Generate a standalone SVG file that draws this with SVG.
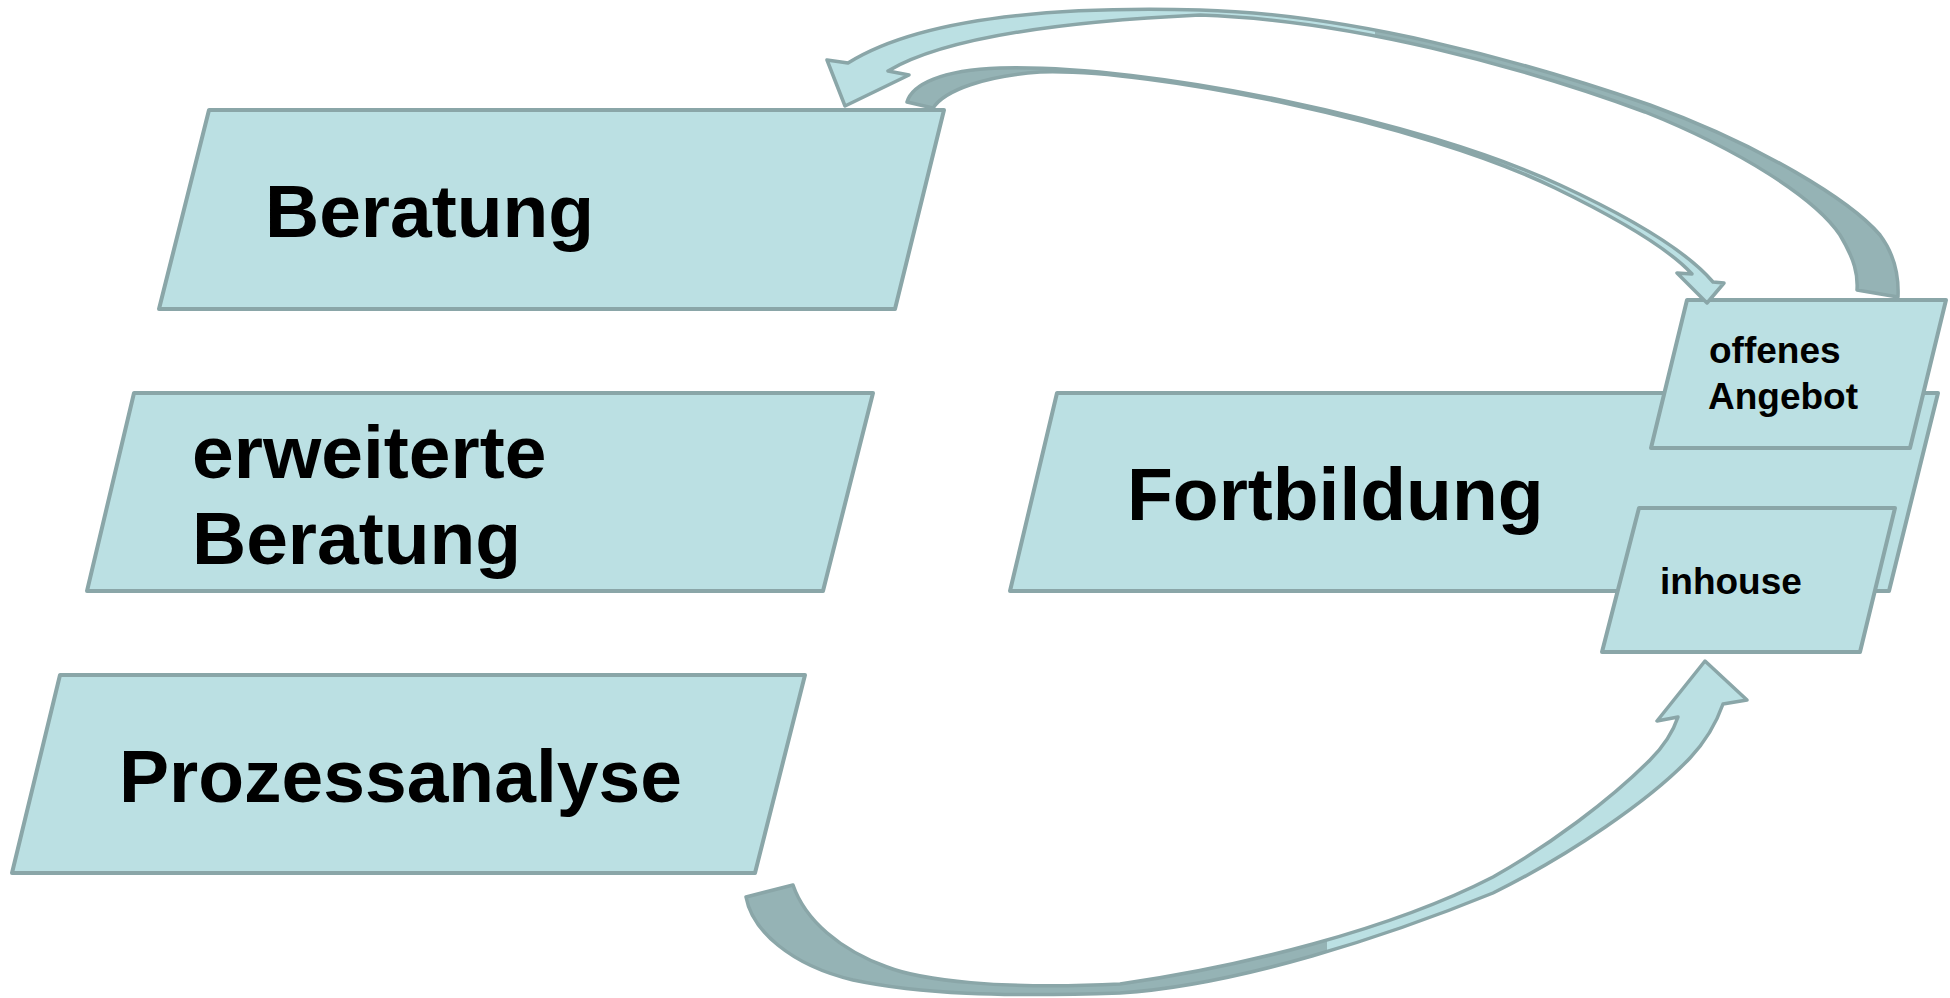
<svg xmlns="http://www.w3.org/2000/svg" width="1950" height="998" viewBox="0 0 1950 998">
<defs>
<style>
.box{fill:#BBE0E3;stroke:#8AA6A8;stroke-width:4;stroke-linejoin:round}
.arr{stroke:#8AA6A8;stroke-width:3.5;stroke-linejoin:round}
.big{font-family:"Liberation Sans",Arial,sans-serif;font-weight:bold;font-size:75px;fill:#000}
.small{font-family:"Liberation Sans",Arial,sans-serif;font-weight:bold;font-size:37px;fill:#000}
</style>
<linearGradient id="g1" gradientUnits="userSpaceOnUse" x1="800" y1="0" x2="1950" y2="0">
<stop offset="0" stop-color="#BBE0E3"/><stop offset="0.5" stop-color="#BBE0E3"/><stop offset="0.5" stop-color="#95B3B5"/><stop offset="1" stop-color="#95B3B5"/>
</linearGradient>
<linearGradient id="g2" gradientUnits="userSpaceOnUse" x1="800" y1="0" x2="1800" y2="0">
<stop offset="0" stop-color="#95B3B5"/><stop offset="0.4" stop-color="#95B3B5"/><stop offset="0.4" stop-color="#BBE0E3"/><stop offset="1" stop-color="#BBE0E3"/>
</linearGradient>
<linearGradient id="g3" gradientUnits="userSpaceOnUse" x1="700" y1="0" x2="1800" y2="0">
<stop offset="0" stop-color="#95B3B5"/><stop offset="0.57" stop-color="#95B3B5"/><stop offset="0.57" stop-color="#BBE0E3"/><stop offset="1" stop-color="#BBE0E3"/>
</linearGradient>
</defs>
<rect width="1950" height="998" fill="#FFFFFF"/>
<g id="beratung">
<polygon class="box" points="209,110 944,110 895,309 159,309"/>
<text class="big" x="265" y="237">Beratung</text>
</g>
<g id="erweiterte-beratung">
<polygon class="box" points="134,393 873,393 823,591 87,591"/>
<text class="big" x="192" y="478">erweiterte</text>
<text class="big" x="192" y="564">Beratung</text>
</g>
<g id="prozessanalyse">
<polygon class="box" points="60,675 805,675 755,873 12,873"/>
<text class="big" x="119" y="802">Prozessanalyse</text>
</g>
<g id="fortbildung">
<polygon class="box" points="1057,393 1938,393 1889,591 1010,591"/>
<text class="big" x="1127" y="520">Fortbildung</text>
</g>
<g id="offenes-angebot">
<polygon class="box" points="1687,300 1946,300 1910,448 1651,448"/>
<text class="small" x="1709" y="363">offenes</text>
<text class="small" x="1708" y="409">Angebot</text>
</g>
<g id="inhouse">
<polygon class="box" points="1639,508 1895,508 1860,652 1602,652"/>
<text class="small" x="1660" y="594">inhouse</text>
</g>
<g id="connectors">
<path class="arr" fill="url(#g1)" d="M827,60 L848,63 C920,18 1050,6 1200,10 C1350,14 1520,60 1650,105 C1760,145 1850,200 1880,235 C1895,255 1899,275 1898,297 L1857,290 C1858,275 1855,260 1840,235 C1815,198 1740,150 1645,112 C1520,66 1350,20 1200,15 C1050,22 940,40 888,71 L909,75 L845,106 Z"/>
<path class="arr" fill="url(#g2)" d="M907,102 C912,85 940,70 1000,68 C1150,64 1420,120 1560,185 C1640,222 1690,255 1713,282 L1724,283 L1707,303 L1677,273 L1692,274 C1670,250 1625,222 1555,188 C1420,122 1150,68 1040,72 C985,76 945,90 933,108 Z"/>
<path class="arr" fill="url(#g3)" d="M746,897 C752,930 790,965 853,980 C920,994 1000,997 1120,993 C1240,985 1390,935 1493,893 C1570,855 1650,800 1690,758 C1705,742 1716,724 1723,704 L1747,700 L1705,661 L1657,721 L1678,717 C1672,735 1660,750 1650,760 C1610,800 1550,845 1493,877 C1390,930 1240,967 1120,984 C1000,990 920,980 887,967 C840,950 805,920 793,885 Z"/>
</g>
</svg>
